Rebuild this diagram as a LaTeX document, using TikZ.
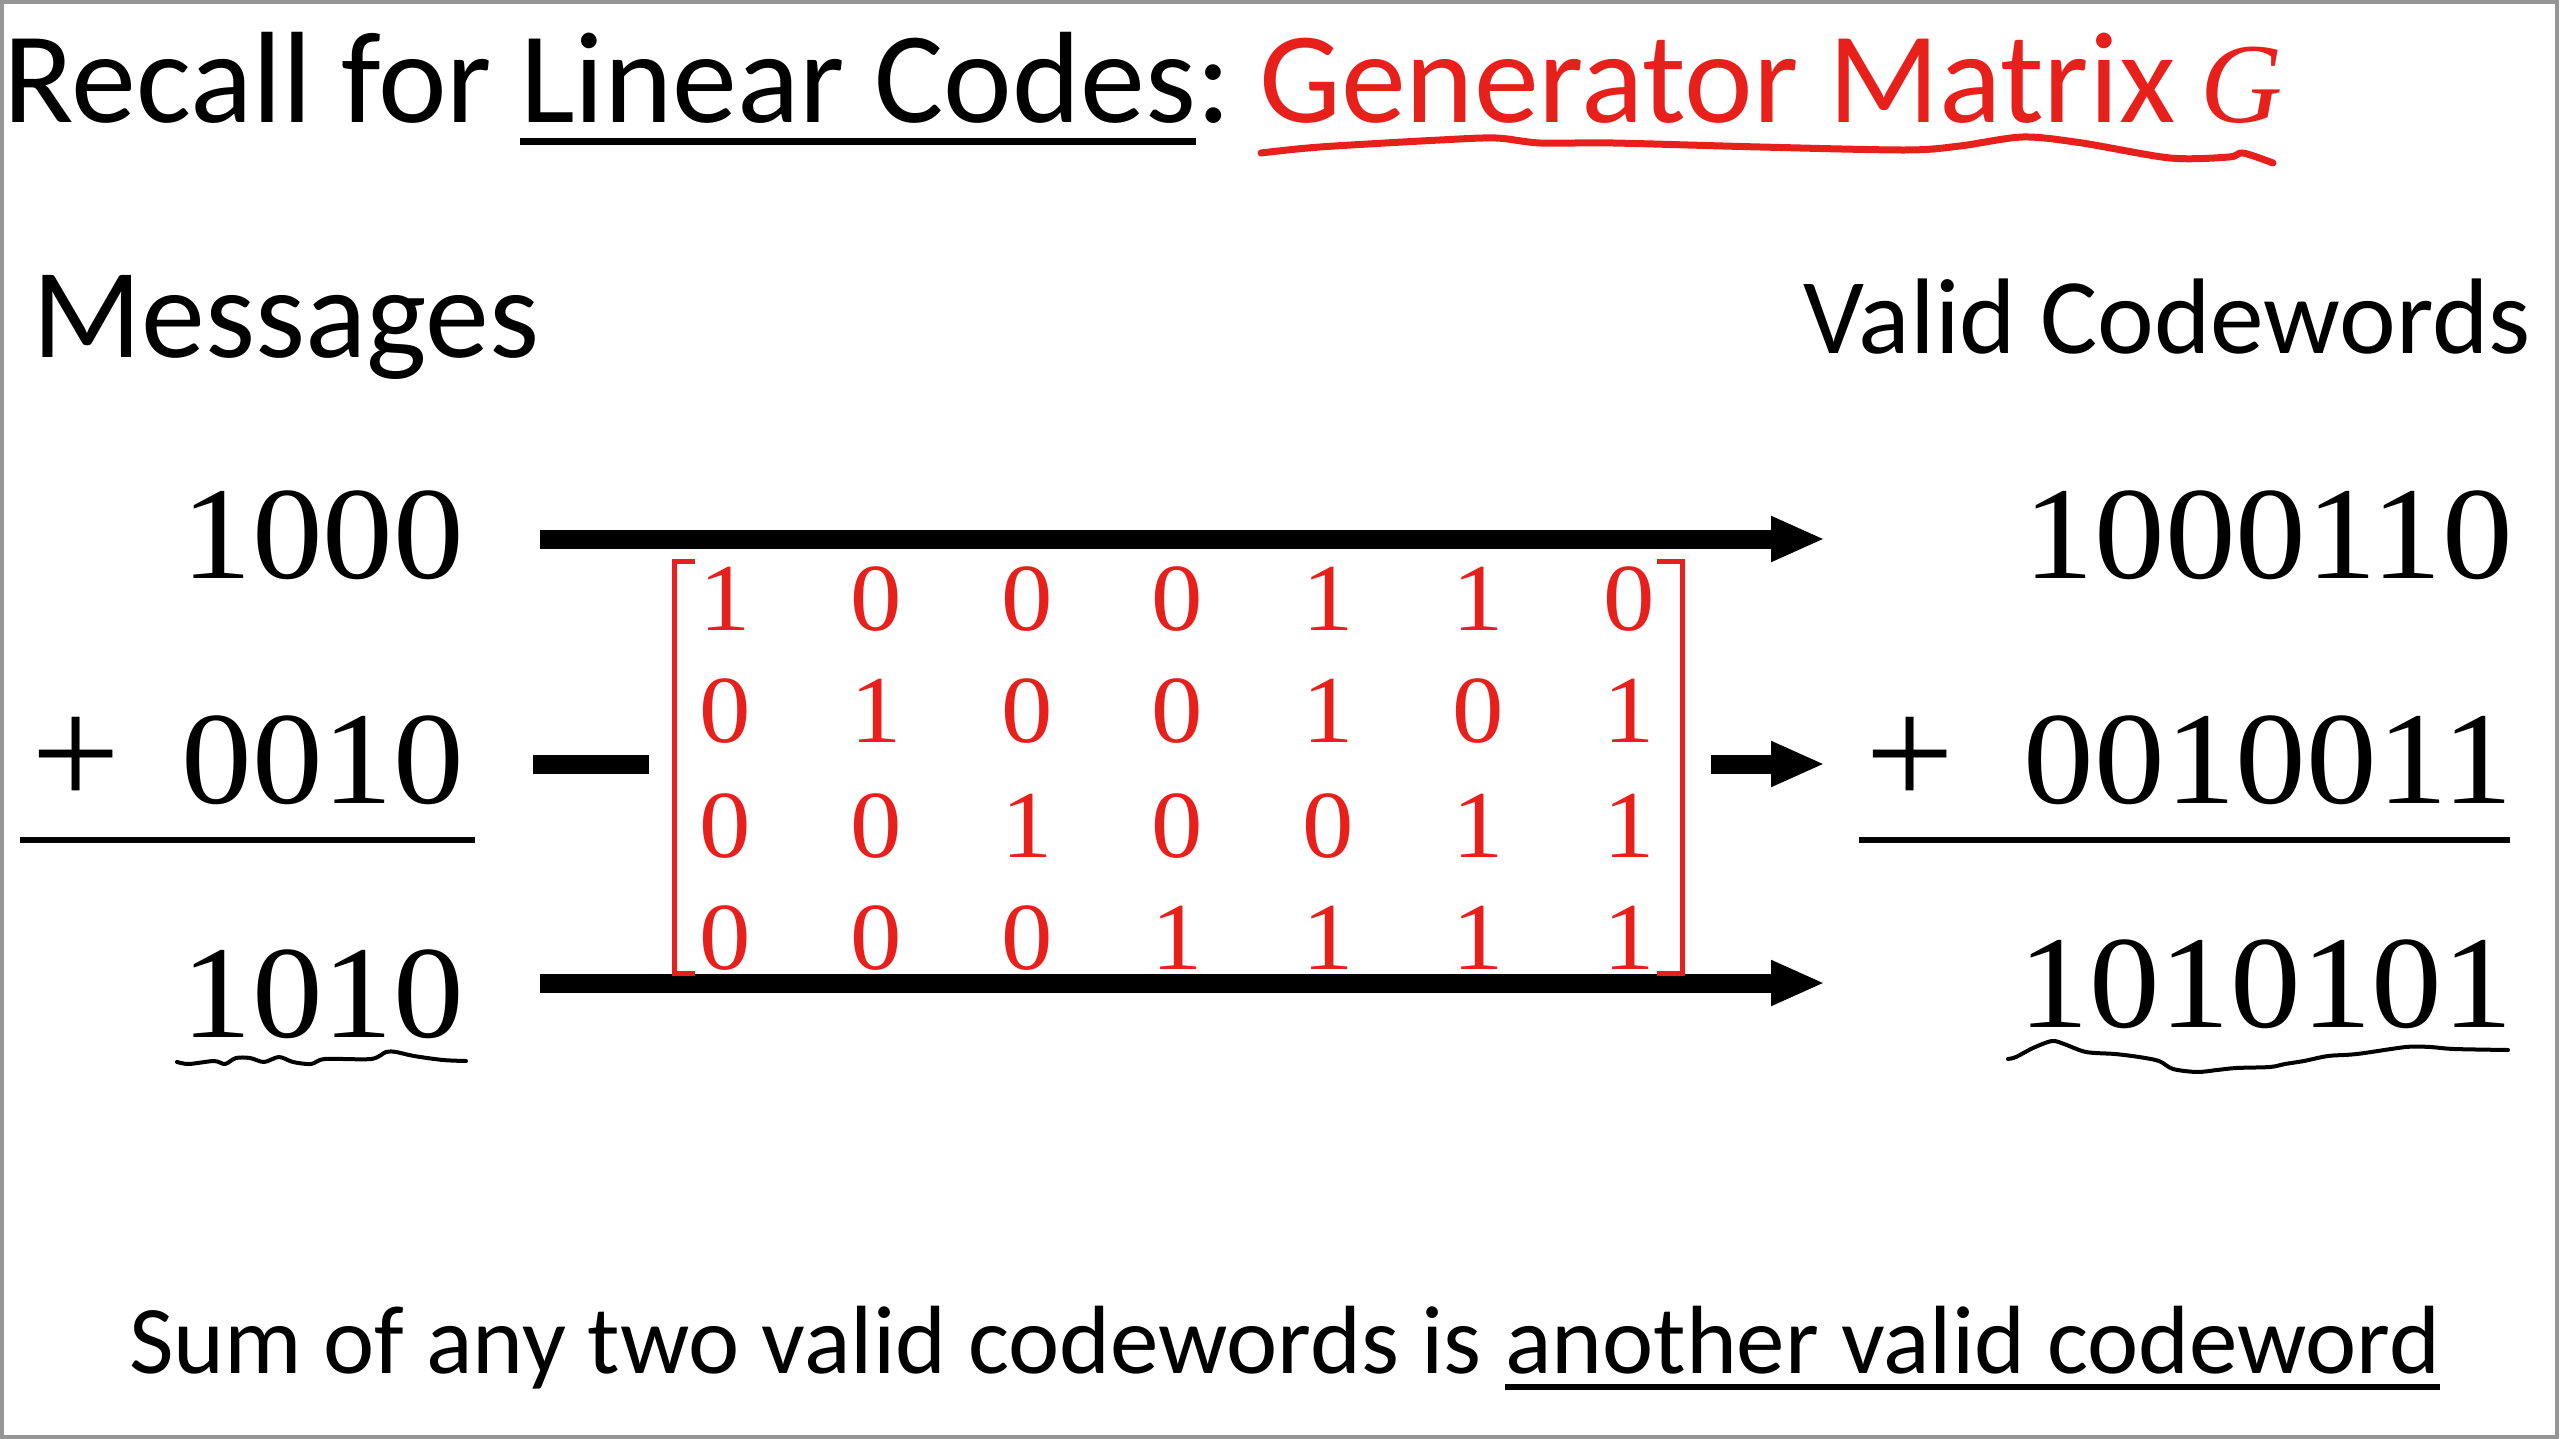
\documentclass[tikz,border=0pt]{standalone}
\usepackage{fontspec}
\setmainfont{Carlito}
\newfontfamily\numfont[FakeStretch=1.07]{Liberation Serif}
\newfontfamily\gfont{Liberation Serif}
\usetikzlibrary{arrows.meta,calc}
\definecolor{pptred}{RGB}{232,32,28}
\definecolor{framegray}{RGB}{150,150,150}
\begin{document}
\begin{tikzpicture}[x=1pt,y=-1pt,
  txt/.style={inner sep=0pt, outer sep=0pt},
  titlef/.style={txt, font=\fontsize{130}{156}\selectfont},
  headf/.style={txt, font=\fontsize{128}{150}\selectfont},
  sheadf/.style={txt, font=\fontsize{107.5}{128}\selectfont},
  bottomf/.style={txt, font=\fontsize{97}{116}\selectfont},
  numf/.style={txt, font=\numfont\fontsize{132}{158}\selectfont},
  plusf/.style={txt, font=\gfont\fontsize{158}{180}\selectfont},
  matf/.style={txt, text=pptred, font=\numfont\fontsize{96}{115}\selectfont},
  bigarrow/.style={line width=19pt, -{Triangle[length=54pt,width=42pt]}},
  rulel/.style={line width=6pt},
  bracket/.style={draw=pptred, line width=5pt, line join=miter},
  squig/.style={line width=4pt, line cap=round, line join=round},
]
\useasboundingbox (0,0) rectangle (2560,1439);
\fill[white] (0,0) rectangle (2560,1439);
\draw[framegray, line width=4pt] (2,2) rectangle (2557,1437);

% title
\node[titlef, anchor=base west] (t1) at (3,123) {Recall for};
\node[titlef, anchor=base west] (t2) at (520,123) {Linear Codes};
\node[titlef, anchor=base west] (t3) at (t2.base east) {:};
\node[titlef, anchor=base west, text=pptred] (t4) at (1259,123) {Generator Matrix\kern-4pt\ {\gfont\itshape\fontsize{114}{140}\selectfont G}};
\draw[line width=7pt] ($(t2.base west)+(0,19)$) -- ($(t2.base east)+(0,19)$);
\draw[pptred, line width=7pt, line cap=round, line join=round] plot[smooth] coordinates {
 (1261,153) (1320,147) (1440,140) (1496,138) (1540,143) (1613,143) (1760,147) (1906,150)
 (1960,146) (2023,137) (2082,143) (2170,158) (2229,157) (2243,153) (2273,163)};

% headings
\node[headf, anchor=base west] (msg) at (32,357) {Messages};
\node[sheadf, anchor=base east] (vcw) at (2531,353) {Valid Codewords};

% messages
\node[numf, anchor=base east] (m1) at (464,578) {1000};
\node[numf, anchor=base east] (m2) at (464,803) {0010};
\node[plusf, anchor=base] (mp) at (76,806) {+};
\node[numf, anchor=base east] (m3) at (464,1037) {1010};
\draw[rulel] (20,840) -- (475,840);
\draw[squig] plot[smooth] coordinates {(177,1062) (189,1064) (214,1061) (225,1064) (236,1058) (250,1058) (264,1062) (279,1057) (293,1062) (311,1064) (325,1059) (371,1059) (386,1052) (396,1052) (414,1056) (443,1060) (466,1061)};

% codewords
\node[numf, anchor=base east] (c1) at (2513,578) {1000110};
\node[numf, anchor=base east] (c2) at (2513,803) {0010011};
\node[plusf, anchor=base] (cp) at (1910,806) {+};
\node[numf, anchor=base east] (c3) at (2513,1027) {1010101};
\draw[rulel] (1859,840) -- (2510,840);
\draw[squig] plot[smooth] coordinates {(2008,1059) (2016,1057) (2033,1048) (2052,1041) (2064,1044) (2086,1052) (2115,1054) (2139,1057) (2159,1061) (2173,1069) (2197,1072) (2217,1070) (2236,1068) (2270,1067) (2285,1064) (2304,1061) (2328,1056) (2357,1054) (2406,1047) (2430,1047) (2454,1049) (2508,1050)};

% arrows
\coordinate (a1s) at (540,539);  \coordinate (a1e) at (1825,539);
\coordinate (a2s) at (533,764);  \coordinate (a2e) at (1825,764);
\coordinate (a3s) at (540,983);  \coordinate (a3e) at (1825,983);
\draw[bigarrow] (a2s) -- (a2e);
\fill[white] (649,553) rectangle (1711,975);
\draw[bigarrow] (a1s) -- (a1e);
\draw[bigarrow] (a3s) -- (a3e);

% generator matrix
\draw[bracket] (695,561) -- (674,561) -- (674,973) -- (695,973);
\draw[bracket] (1657,561) -- (1682,561) -- (1682,973) -- (1657,973);
\foreach [count=\c] \v in {1,0,0,0,1,1,0}
  \node[matf, anchor=base] (g1-\c) at ({725.5+150.6*(\c-1)},630) {\v};
\foreach [count=\c] \v in {0,1,0,0,1,0,1}
  \node[matf, anchor=base] (g2-\c) at ({725.5+150.6*(\c-1)},742) {\v};
\foreach [count=\c] \v in {0,0,1,0,0,1,1}
  \node[matf, anchor=base] (g3-\c) at ({725.5+150.6*(\c-1)},857) {\v};
\foreach [count=\c] \v in {0,0,0,1,1,1,1}
  \node[matf, anchor=base] (g4-\c) at ({725.5+150.6*(\c-1)},969) {\v};

% bottom sentence
\node[bottomf, anchor=base west] (b1) at (129,1373) {Sum of any two valid codewords is};
\node[bottomf, anchor=base west] (b2) at (1505,1373) {another valid codeword};
\draw[line width=6pt] ($(b2.base west)+(0,14)$) -- ($(b2.base east)+(0,14)$);
\end{tikzpicture}
\end{document}
